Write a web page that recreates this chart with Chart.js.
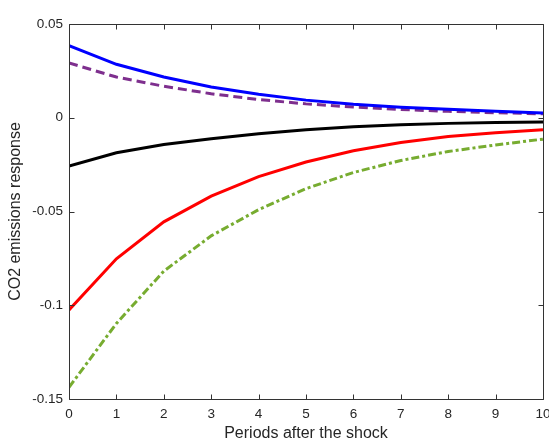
<!DOCTYPE html>
<html>
<head>
<meta charset="utf-8">
<script src="https://cdn.jsdelivr.net/npm/chart.js@4"></script>
<style>
  html, body { margin: 0; padding: 0; background: #fff; overflow: hidden; }
  #wrap { width: 560px; height: 448px; }
</style>
</head>
<body>
<div id="wrap"><canvas id="irfChart" width="560" height="448"></canvas></div>
<script>
const periods = [0, 1, 2, 3, 4, 5, 6, 7, 8, 9, 10];
const blueLine = [0.0385, 0.0285, 0.0217, 0.0164, 0.0125, 0.0094, 0.0072, 0.0056, 0.0045, 0.0035, 0.0025];
const purpleDash = [0.0292, 0.0217, 0.0168, 0.0128, 0.0097, 0.0074, 0.0057, 0.0044, 0.0034, 0.0027, 0.0021];
const blackLine = [-0.0258, -0.0187, -0.0143, -0.0112, -0.0085, -0.0064, -0.0048, -0.0037, -0.0030, -0.0025, -0.0022];
const redLine = [-0.1025, -0.0752, -0.0555, -0.0418, -0.0314, -0.0236, -0.0176, -0.0132, -0.0100, -0.0080, -0.0064];
const greenDashDot = [-0.1438, -0.1097, -0.0818, -0.0630, -0.0490, -0.0378, -0.0292, -0.0228, -0.0180, -0.0145, -0.0114];
const yTicks = [-0.15, -0.1, -0.05, 0, 0.05];

const axisColor = "#262626";
const pts = arr => arr.map((v, i) => ({x: periods[i], y: v}));

// matlab style box with inward ticks on all four sides
const boxPlugin = {
    id: "box",
    afterDraw(chart) {
        const ctx = chart.ctx, a = chart.chartArea;
        const xs = chart.scales.x, ys = chart.scales.y;
        const len = 5;
        const L = Math.round(a.left) + 0.5, R = Math.round(a.right) + 0.5;
        const T = Math.round(a.top) + 0.5, B = Math.round(a.bottom) + 0.5;
        ctx.save();
        ctx.strokeStyle = "#333333";
        ctx.lineWidth = 1;
        ctx.setLineDash([]);
        ctx.beginPath();
        ctx.moveTo(L, T); ctx.lineTo(R, T); ctx.lineTo(R, B); ctx.lineTo(L, B); ctx.closePath();
        xs.ticks.forEach(t => {
            const px = Math.round(xs.getPixelForValue(t.value)) + 0.5;
            ctx.moveTo(px, B); ctx.lineTo(px, B - len);
            ctx.moveTo(px, T); ctx.lineTo(px, T + len);
        });
        ys.ticks.forEach(t => {
            const py = Math.round(ys.getPixelForValue(t.value)) + 0.5;
            ctx.moveTo(L, py); ctx.lineTo(L + len, py);
            ctx.moveTo(R, py); ctx.lineTo(R - len, py);
        });
        ctx.stroke();
        ctx.restore();
    }
};

const irfChart = new Chart(
    document.getElementById("irfChart"),
    {
        type: "line",
        data: {
            datasets: [
                {label: "blue", data: pts(blueLine), borderColor: "#0000FF", borderWidth: 3},
                {label: "purple", data: pts(purpleDash), borderColor: "#7E2F8E", borderWidth: 3, borderDash: [9, 5]},
                {label: "black", data: pts(blackLine), borderColor: "#000000", borderWidth: 3},
                {label: "red", data: pts(redLine), borderColor: "#FF0000", borderWidth: 3},
                {label: "green", data: pts(greenDashDot), borderColor: "#77AC30", borderWidth: 3, borderDash: [8, 3, 3, 3]}
            ]
        },
        options: {
            responsive: false,
            animation: false,
            layout: {padding: {top: 24, right: 17, left: 0, bottom: 0}},
            elements: {
                point: {radius: 0},
                line: {tension: 0, fill: false, borderCapStyle: "butt"}
            },
            plugins: {
                legend: {display: false},
                tooltip: {enabled: false}
            },
            scales: {
                x: {
                    type: "linear",
                    min: 0, max: 10,
                    grid: {display: false, drawTicks: false},
                    border: {display: false},
                    ticks: {
                        stepSize: 1, padding: 7, color: axisColor,
                        font: {family: "'Liberation Sans', Arial, sans-serif", size: 13.5}
                    },
                    title: {
                        display: true, text: "Periods after the shock", color: axisColor,
                        font: {family: "'Liberation Sans', Arial, sans-serif", size: 16},
                        padding: {top: 0, bottom: 5}
                    },
                    afterFit: s => { s.height = 49; }
                },
                y: {
                    min: -0.15, max: 0.05,
                    grid: {display: false, drawTicks: false},
                    border: {display: false},
                    afterBuildTicks: s => { s.ticks = yTicks.map(v => ({value: v})); },
                    ticks: {
                        padding: 6, color: axisColor,
                        font: {family: "'Liberation Sans', Arial, sans-serif", size: 13.5},
                        callback: v => String(parseFloat(Number(v).toFixed(2)))
                    },
                    title: {
                        display: true, text: "CO2 emissions response", color: axisColor,
                        font: {family: "'Liberation Sans', Arial, sans-serif", size: 16},
                        padding: {top: 6, bottom: 0}
                    },
                    afterFit: s => { s.width = 69; }
                }
            }
        },
        plugins: [boxPlugin]
    }
);
</script>
</body>
</html>
